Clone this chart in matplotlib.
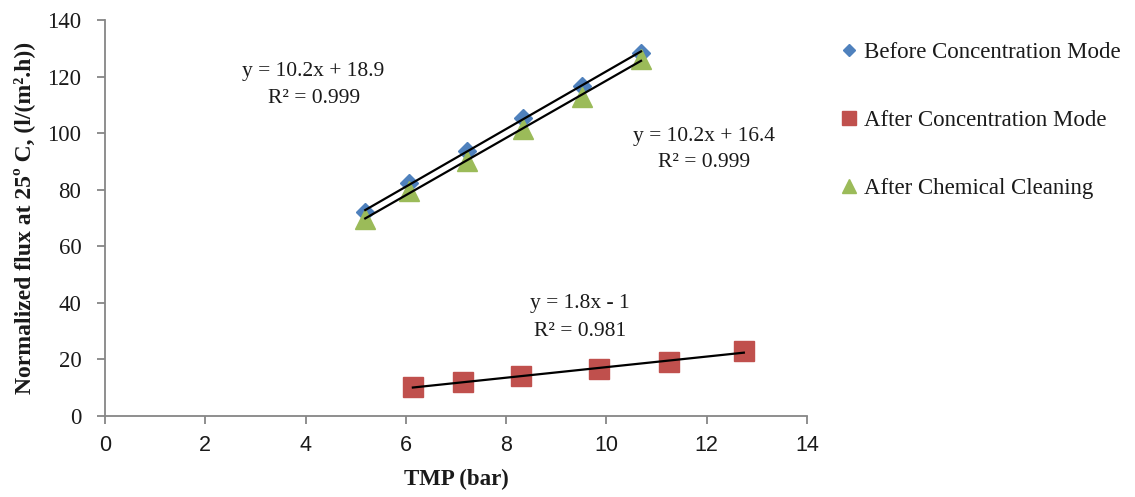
import numpy as np
import matplotlib
matplotlib.use("Agg")
import matplotlib.pyplot as plt

# Transmembrane pressure (bar) and normalized flux at 25 °C (l/(m².h))
tmp_before = [5.19, 6.06, 7.22, 8.34, 9.51, 10.69]
flux_before = [72.0, 82.3, 93.6, 105.5, 116.8, 128.5]

tmp_after = [6.14, 7.14, 8.30, 9.85, 11.25, 12.74]
flux_after = [10.3, 12.0, 14.1, 16.6, 19.1, 23.0]

tmp_clean = [5.19, 6.06, 7.22, 8.34, 9.51, 10.69]
flux_clean = [69.6, 79.4, 90.2, 101.6, 112.9, 126.2]

series_names = ["Before Concentration Mode", "After Concentration Mode",
                "After Chemical Cleaning"]

x_ticks = [0, 2, 4, 6, 8, 10, 12, 14]
y_ticks = [0, 20, 40, 60, 80, 100, 120, 140]

BLUE = "#4F81BD"
RED = "#C0504D"
GREEN = "#9BBB59"
AXIS_GRAY = "#868686"
TEXT = "#1a1a1a"

serif = ["Liberation Serif", "DejaVu Serif"]
narrow = ["Liberation Sans Narrow", "Liberation Sans", "DejaVu Sans"]

fig = plt.figure(figsize=(11.35, 4.97), dpi=100)
ax = fig.add_axes([105 / 1135, 81 / 497, 702 / 1135, 396 / 497])

ax.plot(tmp_before, flux_before, linestyle="none", marker="D", markersize=9.5,
        color=BLUE, label=series_names[0], zorder=3)
ax.plot(tmp_after, flux_after, linestyle="none", marker="s", markersize=14,
        color=RED, label=series_names[1], zorder=3)
ax.plot(tmp_clean, flux_clean, linestyle="none", marker="^", markersize=14,
        color=GREEN, label=series_names[2], zorder=3)


def trend(x, y):
    x = np.asarray(x)
    y = np.asarray(y)
    k, b = np.polyfit(x, y, 1)
    xs = np.array([x.min(), x.max()])
    ax.plot(xs, k * xs + b, color="black", linewidth=1.6, zorder=4)


trend(tmp_before, flux_before)
trend(tmp_after, flux_after)
trend(tmp_clean, flux_clean)

eq_kw = dict(fontsize=15.5, family=serif, ha="center", va="center", color=TEXT)
ax.text(4.16, 121.7, "y = 10.2x + 18.9", **eq_kw)
ax.text(4.16, 112.2, "R² = 0.999", **eq_kw)
ax.text(11.95, 98.8, "y = 10.2x + 16.4", **eq_kw)
ax.text(11.95, 89.6, "R² = 0.999", **eq_kw)
ax.text(9.47, 39.6, "y = 1.8x - 1", **eq_kw)
ax.text(9.47, 30.0, "R² = 0.981", **eq_kw)

ax.set_xlim(0, 14)
ax.set_ylim(0, 140)
ax.set_xticks(x_ticks)
ax.set_yticks(y_ticks)
ax.set_xticklabels([str(v) for v in x_ticks], family=narrow, fontsize=15.5)
ax.set_yticklabels([str(v) for v in y_ticks], family=serif, fontsize=16.5)

for side in ("top", "right"):
    ax.spines[side].set_visible(False)
for side in ("left", "bottom"):
    ax.spines[side].set_color(AXIS_GRAY)
    ax.spines[side].set_linewidth(1.3)
ax.tick_params(axis="both", direction="out", length=6, width=1.3,
               color=AXIS_GRAY, labelcolor=TEXT)
ax.tick_params(axis="x", pad=8)
ax.tick_params(axis="y", pad=11)

ax.set_xlabel("TMP (bar)", family=serif, fontsize=16.5, fontweight="bold",
              labelpad=9, color=TEXT)
ax.set_ylabel("Normalized flux at 25º C, (l/(m².h))", family=serif,
              fontsize=17, fontweight="bold", labelpad=9, color=TEXT)

leg = ax.legend(loc="upper left", bbox_to_anchor=(1.035, 0.968), frameon=False,
                prop={"family": serif, "size": 16.5}, handlelength=0.7,
                handletextpad=0.3, labelspacing=2.05, markerscale=0.68,
                borderaxespad=0)
for t in leg.get_texts():
    t.set_color(TEXT)

fig.savefig("out.png", dpi=100)
